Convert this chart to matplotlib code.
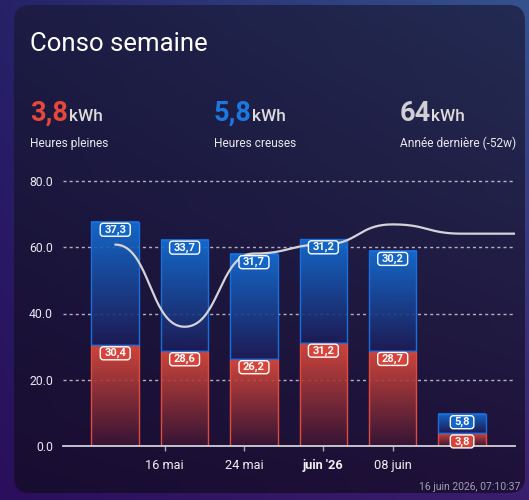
import numpy as np
import matplotlib
matplotlib.use("Agg")
import matplotlib.pyplot as plt
import matplotlib.dates as mdates
from matplotlib.colors import LinearSegmentedColormap, to_rgb
from matplotlib.patches import FancyBboxPatch, Rectangle
from matplotlib.transforms import IdentityTransform

plt.rcParams["font.family"] = ["Roboto", "DejaVu Sans"]

week_starts = ["2026-05-11", "2026-05-18", "2026-05-25", "2026-06-01", "2026-06-08", "2026-06-15"]
heures_pleines = [30.4, 28.6, 26.2, 31.2, 28.7, 3.8]
heures_creuses = [37.3, 33.7, 31.7, 31.2, 30.2, 5.8]
last_year_dates = ["2026-05-11", "2026-05-18", "2026-05-25", "2026-06-01", "2026-06-08", "2026-06-15", "2026-06-22"]
last_year = [60.8, 36.0, 58.1, 60.8, 66.9, 64.1, 64.1]
tick_dates = ["2026-05-16", "2026-05-24", "2026-06-01", "2026-06-08"]
tick_labels = ["16 mai", "24 mai", "juin '26", "08 juin"]
y_ticks = [0, 20, 40, 60, 80]
stat_values = ["3,8", "5,8", "64"]
stat_names = ["Heures pleines", "Heures creuses", "Année dernière (-52w)"]
stat_colors = ["#e8483a", "#1a78e0", "#cfcfd4"]

W, H = 529, 500
fig = plt.figure(figsize=(W / 100, H / 100), dpi=100)


def corner_gradient(tl, tr, bl, br, n=200):
    t = np.linspace(0, 1, n)
    u, v = np.meshgrid(t, t)
    tl, tr, bl, br = [np.array(to_rgb(c)) for c in (tl, tr, bl, br)]
    return (((1 - u) * (1 - v))[..., None] * tl + (u * (1 - v))[..., None] * tr
            + ((1 - u) * v)[..., None] * bl + (u * v)[..., None] * br)


# background + card, in pixel coords (y down)
bg = fig.add_axes([0, 0, 1, 1], zorder=-1)
bg.set_xlim(0, W)
bg.set_ylim(H, 0)
bg.axis("off")
bg.imshow(corner_gradient("#262268", "#35528e", "#2b0f5c", "#3b1e6e"),
          extent=[0, W, H, 0], aspect="auto", interpolation="bilinear")
card = FancyBboxPatch((14, 5), 511, 488, boxstyle="round,pad=0,rounding_size=16",
                      fc="none", ec="none")
bg.add_patch(card)
card_img = bg.imshow(corner_gradient("#1c1c44", "#232b52", "#190c31", "#1f1139"),
                     extent=[14, 525, 493, 5], aspect="auto", interpolation="bilinear")
card_img.set_clip_path(card)
bg.set_xlim(0, W)
bg.set_ylim(H, 0)

bg.text(30.4, 50.6, "Conso semaine", fontsize=18.5, color="white", va="baseline")
renderer = fig.canvas.get_renderer()
for x, val, name, col in zip([30.4, 213.5, 399.7], stat_values, stat_names, stat_colors):
    t = bg.text(x, 121, val, fontsize=19.5, fontweight="bold", color=col, va="baseline")
    w = t.get_window_extent(renderer).width
    bg.text(x + w + 0.5, 121, "kWh", fontsize=12.5, fontweight="medium", color="#dcdcdc", va="baseline")
    bg.text(x, 146.7, name, fontsize=8.6, color="#e8e8ec", va="baseline")
bg.text(520, 489.8, "16 juin 2026, 07:10:37", fontsize=7.5, color="#a0a0b0", ha="right", va="baseline")

# --- chart ---
ax = fig.add_axes([63 / W, (H - 446) / H, (515 - 63) / W, (446 - 181) / H])
ax.set_facecolor("none")
x = mdates.datestr2num(week_starts)
x_mid = mdates.datestr2num("2026-06-01")
ax.set_xlim(x_mid - 26.27, x_mid + 19.34)
ax.set_ylim(0, 80)
for s in ax.spines.values():
    s.set_visible(False)

for v in y_ticks[1:]:
    ax.axhline(v, color="#d8d8e0", lw=1, ls=(0, (2.2, 2.2)), alpha=0.8, zorder=1, clip_on=False)
ax.axhline(0, color="#d0d0d8", lw=1.3, zorder=4, clip_on=False)

bar_w = 4.8


def gradient_rect(x0, x1, y0, y1, c_bottom, c_top, edge):
    cmap = LinearSegmentedColormap.from_list("g", [c_bottom, c_top])
    grad = np.linspace(0, 1, 100).reshape(-1, 1)
    ax.imshow(grad, cmap=cmap, extent=[x0, x1, y0, y1], origin="lower",
              aspect="auto", zorder=2, alpha=0.9, interpolation="bilinear")
    ax.add_patch(Rectangle((x0, y0), x1 - x0, y1 - y0, fill=False, ec=edge, lw=1, zorder=3))


for xc, hp, hc in zip(x, heures_pleines, heures_creuses):
    gradient_rect(xc - bar_w / 2, xc + bar_w / 2, 0, hp, "#3a1535", "#e24b3b", "#e5493a")
    gradient_rect(xc - bar_w / 2, xc + bar_w / 2, hp, hp + hc, "#1d1d58", "#1470d8", "#1a6fe0")


# smooth line (cubic bezier per segment, flat handles like the card does)
def smooth_path(xs, ys, n=40):
    t = np.linspace(0, 1, n)
    out_x, out_y = [], []
    for i in range(len(xs) - 1):
        x0, x1, y0, y1 = xs[i], xs[i + 1], ys[i], ys[i + 1]
        xm = (x0 + x1) / 2
        out_x.append((1 - t) ** 3 * x0 + 3 * (1 - t) ** 2 * t * xm + 3 * (1 - t) * t ** 2 * xm + t ** 3 * x1)
        out_y.append((1 - t) ** 3 * y0 + 3 * (1 - t) ** 2 * t * y0 + 3 * (1 - t) * t ** 2 * y1 + t ** 3 * y1)
    return np.concatenate(out_x), np.concatenate(out_y)


lx, ly = smooth_path(mdates.datestr2num(last_year_dates), last_year)
ax.plot(lx, ly, color="#d6d2da", lw=1.6, zorder=4, solid_capstyle="round")

ax.set_yticks(y_ticks)
ax.set_yticklabels([f"{v:.1f}" for v in y_ticks])
ax.tick_params(axis="y", length=0, pad=7.2, labelsize=8.8, labelcolor="#e8e8ec")
ax.set_xticks(mdates.datestr2num(tick_dates))
ax.set_xticklabels(tick_labels)
ax.tick_params(axis="x", length=3.6, width=1, color="#a8a8b0", pad=6, labelsize=9.2, labelcolor="#f0f0f0")
ax.get_xticklabels()[2].set_fontweight("bold")

# value labels in rounded boxes
fig.canvas.draw()
renderer = fig.canvas.get_renderer()


def value_label(xc, top, val, fc):
    px, py = ax.transData.transform((xc, top))
    cy = py - 8
    t = fig.text(px, cy, f"{val:.1f}".replace(".", ","), transform=IdentityTransform(),
                 ha="center", va="center", fontsize=8, fontweight="bold", color="white", zorder=6)
    w = t.get_window_extent(renderer).width + 8
    fig.add_artist(FancyBboxPatch((px - w / 2, cy - 6.5), w, 13, boxstyle="round,pad=0,rounding_size=3",
                                  transform=IdentityTransform(), fc=fc, ec="white", lw=1, zorder=5))


for xc, hp, hc in zip(x, heures_pleines, heures_creuses):
    value_label(xc, hp, hp, "#d9443a")
    value_label(xc, hp + hc, hc, "#1565c8")

fig.savefig("out.png", dpi=100)
